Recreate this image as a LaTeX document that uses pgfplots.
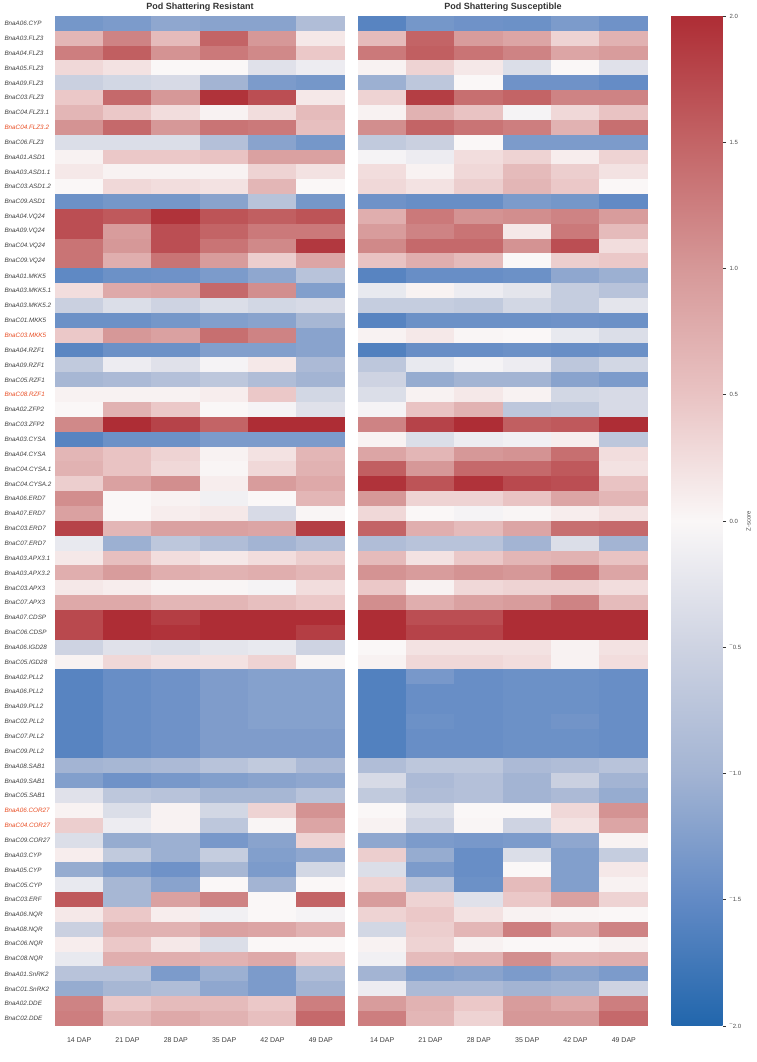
\documentclass[border=0pt]{standalone}
\usepackage{pgfplots}
\pgfplotsset{compat=1.18}
\usepackage{pgfplotstable}
\usepackage{fontspec}
\setmainfont{Liberation Sans}

\definecolor{labred}{RGB}{232,78,36}
\newcommand\hl[1]{\textcolor{labred}{#1}}
\newcommand\nm{\textsuperscript{\textendash}}

% one heat-map cell: 290pt/6 columns by 1010pt/68 rows (slight overlap to avoid seams)
\pgfdeclareplotmark{cell}{%
  \pgfpathrectangle{\pgfpoint{-24.35pt}{-7.6pt}}{\pgfpoint{48.7pt}{15.2pt}}%
  \pgfusepathqfill}

\pgfplotsset{
  colormap={zs}{
    rgb255=(33,102,172) rgb255=(98,138,197) rgb255=(163,180,211)
    rgb255=(206,211,226) rgb255=(250,247,247) rgb255=(233,195,195)
    rgb255=(214,152,152) rgb255=(195,100,102) rgb255=(174,45,53)},
  heat/.style={
    scale only axis, width=290pt, height=1010pt,
    xmin=-0.5, xmax=5.5, ymin=-0.5, ymax=67.5, y dir=reverse,
    xtick={0,...,5},
    xticklabels={14 DAP,21 DAP,28 DAP,35 DAP,42 DAP,49 DAP},
    minor ytick={0.5,1.5,...,66.5},
    xminorgrids=true, yminorgrids=true,
    minor grid style={draw=black!38, line width=0.45pt},
    major tick length=0pt, minor tick length=0pt,
    axis line style={draw=none},
    axis on top,
    colormap name=zs, point meta min=-2, point meta max=2,
    xticklabel style={font=\fontsize{7}{8}\selectfont, text=black!75, yshift=-8pt},
    title style={font=\bfseries\fontsize{9}{10}\selectfont, text=black!80, yshift=-4.5pt},
  },
  cellplot/.style={scatter, only marks, mark=cell, point meta=explicit},
}

% z-scores: resistant (L..) and susceptible (S..) lines at 14--49 DAP
\pgfplotstableread{
gene L14 L21 L28 L35 L42 L49 S14 S21 S28 S35 S42 S49
BnaA06.CYP -1.35 -1.30 -1.15 -1.20 -1.20 -0.85 -1.58 -1.35 -1.40 -1.42 -1.30 -1.40
BnaA03.FLZ3 0.65 1.20 0.60 1.50 1.00 0.15 0.60 1.50 0.95 0.85 0.35 0.70
BnaA04.FLZ3 1.25 1.55 1.05 1.30 1.15 0.45 1.30 1.55 1.35 1.20 0.85 0.95
BnaA05.FLZ3 0.30 0.20 0.00 0.00 -0.30 -0.15 0.05 0.35 0.15 -0.35 0.00 -0.30
BnaA09.FLZ3 -0.55 -0.45 -0.40 -1.00 -1.30 -1.35 -1.05 -0.70 0.00 -1.40 -1.40 -1.48
BnaC03.FLZ3 0.45 1.45 1.00 1.95 1.70 0.15 0.35 1.85 1.40 1.50 1.20 1.20
BnaC04.FLZ3.1 0.65 0.45 0.25 0.05 0.25 0.60 0.05 0.70 0.50 -0.05 0.30 0.50
BnaC04.FLZ3.2 1.05 1.45 1.00 1.35 1.30 0.55 1.10 1.50 1.35 1.25 0.70 1.40
BnaC06.FLZ3 -0.35 -0.35 -0.35 -0.80 -1.20 -1.35 -0.65 -0.55 0.00 -1.30 -1.30 -1.30
BnaA01.ASD1 0.05 0.45 0.45 0.50 0.90 0.90 -0.05 -0.15 0.25 0.35 0.10 0.35
BnaA03.ASD1.1 0.15 0.05 0.05 0.05 0.35 0.20 0.25 0.05 0.30 0.60 0.40 0.20
BnaC03.ASD1.2 0.00 0.30 0.25 0.20 0.65 0.00 0.30 0.20 0.40 0.65 0.45 0.00
BnaC09.ASD1 -1.42 -1.35 -1.35 -1.20 -0.75 -1.35 -1.40 -1.45 -1.45 -1.30 -1.35 -1.50
BnaA04.VQ24 1.70 1.60 1.95 1.65 1.55 1.65 0.75 1.30 1.05 1.10 1.20 0.95
BnaA09.VQ24 1.70 0.95 1.70 1.50 1.30 1.30 0.95 1.20 1.35 0.15 1.30 0.60
BnaC04.VQ24 1.35 1.00 1.70 1.35 1.15 1.90 1.15 1.45 1.45 1.05 1.70 0.25
BnaC09.VQ24 1.35 0.75 1.35 0.95 0.40 0.85 0.50 0.75 0.60 0.00 0.40 0.45
BnaA01.MKK5 -1.52 -1.42 -1.40 -1.30 -1.15 -0.75 -1.58 -1.45 -1.45 -1.42 -1.15 -1.05
BnaA03.MKK5.1 0.25 0.80 0.85 1.45 1.10 -1.25 -0.20 0.05 -0.15 -0.25 -0.60 -0.75
BnaA03.MKK5.2 -0.55 -0.35 -0.50 -0.35 -0.45 -0.40 -0.60 -0.60 -0.65 -0.45 -0.60 -0.25
BnaC01.MKK5 -1.42 -1.42 -1.35 -1.25 -1.20 -0.95 -1.58 -1.42 -1.42 -1.42 -1.40 -1.42
BnaC03.MKK5 0.45 1.00 0.90 1.40 1.20 -1.20 0.05 0.15 0.02 0.00 -0.20 -0.35
BnaA04.RZF1 -1.55 -1.42 -1.42 -1.25 -1.25 -1.20 -1.62 -1.45 -1.45 -1.42 -1.45 -1.42
BnaA09.RZF1 -0.65 -0.15 -0.30 -0.05 0.15 -0.90 -0.70 -0.20 -0.05 -0.15 -0.70 -0.45
BnaC05.RZF1 -0.95 -0.90 -0.80 -0.70 -0.85 -1.00 -0.50 -1.10 -1.00 -1.00 -1.20 -1.30
BnaC08.RZF1 0.05 0.05 0.05 0.10 0.45 -0.45 -0.35 0.05 0.15 0.05 -0.45 -0.40
BnaA02.ZFP2 0.00 0.70 0.45 0.00 -0.05 -0.30 -0.05 0.50 0.70 -0.70 -0.65 -0.40
BnaC03.ZFP2 1.15 2.00 1.80 1.50 2.00 2.00 1.20 1.80 2.00 1.55 1.60 2.00
BnaA03.CYSA -1.58 -1.42 -1.42 -1.30 -1.30 -1.30 0.05 -0.35 -0.15 -0.10 0.10 -0.70
BnaA04.CYSA 0.65 0.50 0.35 0.05 0.20 0.65 0.85 0.65 1.00 1.05 1.40 0.25
BnaC04.CYSA.1 0.70 0.50 0.30 0.02 0.30 0.70 1.55 1.00 1.45 1.45 1.60 0.20
BnaC04.CYSA.2 0.40 0.90 1.10 0.10 0.95 0.80 1.95 1.65 1.95 1.75 1.70 0.50
BnaA06.ERD7 1.10 0.00 0.05 -0.10 0.00 0.65 1.00 0.35 0.35 0.50 0.85 0.65
BnaA07.ERD7 0.90 0.00 0.10 0.15 -0.40 0.02 0.30 0.00 -0.05 0.02 0.10 0.20
BnaC03.ERD7 1.80 0.65 0.90 0.90 0.85 1.85 1.50 0.75 0.60 0.85 1.40 1.45
BnaC07.ERD7 -0.20 -1.05 -0.70 -0.85 -1.00 -0.85 -0.85 -0.75 -0.75 -1.00 -0.35 -1.00
BnaA03.APX3.1 0.15 0.55 0.25 0.15 0.25 0.40 0.60 0.20 0.45 0.65 0.70 0.50
BnaA03.APX3.2 0.75 0.95 0.75 0.70 0.75 0.65 1.05 0.95 1.05 1.00 1.30 0.85
BnaC03.APX3 0.15 0.10 0.02 0.02 -0.05 0.25 0.45 0.05 0.30 0.35 0.35 0.25
BnaC07.APX3 0.80 0.80 0.65 0.65 0.55 0.45 1.10 0.75 0.90 0.95 1.20 0.60
BnaA07.CDSP 1.75 2.00 1.85 2.00 2.00 2.00 2.00 1.70 1.70 2.00 2.00 2.00
BnaC06.CDSP 1.75 2.00 1.95 2.00 2.00 1.85 2.00 1.80 1.80 2.00 2.00 2.00
BnaA06.IGD28 -0.50 -0.30 -0.35 -0.25 -0.20 -0.50 0.00 0.20 0.20 0.20 0.05 0.20
BnaC05.IGD28 0.05 0.30 0.20 0.20 0.35 0.02 0.05 0.30 0.30 0.25 0.05 0.25
BnaA02.PLL2 -1.58 -1.45 -1.40 -1.28 -1.23 -1.23 -1.62 -1.33 -1.45 -1.42 -1.42 -1.45
BnaA06.PLL2 -1.58 -1.45 -1.40 -1.28 -1.23 -1.23 -1.62 -1.45 -1.45 -1.42 -1.42 -1.45
BnaA09.PLL2 -1.58 -1.45 -1.40 -1.28 -1.23 -1.23 -1.62 -1.45 -1.45 -1.42 -1.42 -1.45
BnaC02.PLL2 -1.58 -1.45 -1.40 -1.28 -1.23 -1.23 -1.62 -1.42 -1.45 -1.42 -1.38 -1.45
BnaC07.PLL2 -1.58 -1.45 -1.40 -1.28 -1.28 -1.28 -1.62 -1.45 -1.45 -1.42 -1.42 -1.45
BnaC09.PLL2 -1.58 -1.45 -1.40 -1.28 -1.28 -1.28 -1.62 -1.45 -1.45 -1.42 -1.42 -1.45
BnaA08.SAB1 -1.00 -0.95 -0.90 -0.75 -0.65 -0.90 -0.85 -0.70 -0.70 -0.90 -0.85 -0.75
BnaA09.SAB1 -1.25 -1.40 -1.33 -1.25 -1.20 -1.15 -0.40 -0.90 -0.80 -1.00 -0.55 -1.00
BnaC05.SAB1 -0.30 -0.70 -0.75 -0.95 -0.95 -0.75 -0.65 -0.85 -0.80 -1.00 -0.90 -1.10
BnaA06.COR27 0.05 -0.35 0.05 -0.45 0.35 1.05 0.00 -0.35 0.00 0.00 0.30 1.05
BnaC04.COR27 0.40 -0.15 0.05 -0.70 0.02 0.85 0.05 -0.50 0.02 -0.50 0.20 0.85
BnaC09.COR27 -0.35 -1.10 -1.05 -1.33 -1.20 0.35 -1.15 -1.30 -1.33 -1.30 -1.15 0.05
BnaA03.CYP 0.10 -0.65 -1.05 -0.60 -1.25 -1.15 0.40 -1.10 -1.45 -0.35 -1.25 -0.60
BnaA05.CYP -1.10 -1.30 -1.40 -0.95 -1.30 -0.45 -0.35 -1.30 -1.45 0.00 -1.25 0.15
BnaC05.CYP -0.20 -0.95 -1.20 0.00 -1.00 0.00 0.35 -0.75 -1.42 0.60 -1.25 0.05
BnaC03.ERF 1.60 -0.95 0.90 1.20 0.00 1.50 0.95 0.35 -0.30 0.45 0.90 0.35
BnaA06.NQR 0.15 0.45 0.10 -0.10 0.00 -0.05 0.35 0.45 0.20 0.05 0.02 0.00
BnaA08.NQR -0.55 0.70 0.70 0.90 0.85 0.70 -0.45 0.40 0.65 1.25 0.80 1.20
BnaC06.NQR 0.10 0.45 0.15 -0.35 0.00 0.00 0.05 0.35 0.05 0.00 0.00 0.05
BnaC08.NQR -0.20 0.75 0.75 0.70 0.80 0.40 -0.10 0.60 0.70 1.10 0.70 0.75
BnaA01.SnRK2 -0.75 -0.75 -1.30 -1.05 -1.30 -0.85 -1.00 -1.25 -1.20 -1.30 -1.20 -1.30
BnaC01.SnRK2 -1.10 -0.95 -0.85 -1.15 -1.30 -1.00 -0.15 -0.90 -0.90 -1.00 -0.95 -0.50
BnaA02.DDE 1.20 0.45 0.60 0.60 0.45 1.25 0.95 0.70 0.45 0.95 0.80 1.25
BnaC02.DDE 1.25 0.65 0.80 0.70 0.55 1.45 1.25 0.65 0.35 1.00 1.00 1.45
}\zdata

\begin{document}
\begin{tikzpicture}[x=1pt,y=1pt]
\useasboundingbox (0,0) rectangle (756,-1062);

% Resistant panel
\begin{axis}[heat, at={(55pt,-16pt)}, anchor=north west,
  title={Pod Shattering Resistant},
  minor xtick={1.5,3.5},
  ytick={0,...,67},
  yticklabels={BnaA06.CYP,BnaA03.FLZ3,BnaA04.FLZ3,BnaA05.FLZ3,BnaA09.FLZ3,BnaC03.FLZ3,
    BnaC04.FLZ3.1,\hl{BnaC04.FLZ3.2},BnaC06.FLZ3,BnaA01.ASD1,BnaA03.ASD1.1,BnaC03.ASD1.2,
    BnaC09.ASD1,BnaA04.VQ24,BnaA09.VQ24,BnaC04.VQ24,BnaC09.VQ24,BnaA01.MKK5,
    BnaA03.MKK5.1,BnaA03.MKK5.2,BnaC01.MKK5,\hl{BnaC03.MKK5},BnaA04.RZF1,BnaA09.RZF1,
    BnaC05.RZF1,\hl{BnaC08.RZF1},BnaA02.ZFP2,BnaC03.ZFP2,BnaA03.CYSA,BnaA04.CYSA,
    BnaC04.CYSA.1,BnaC04.CYSA.2,BnaA06.ERD7,BnaA07.ERD7,BnaC03.ERD7,BnaC07.ERD7,
    BnaA03.APX3.1,BnaA03.APX3.2,BnaC03.APX3,BnaC07.APX3,BnaA07.CDSP,BnaC06.CDSP,
    BnaA06.IGD28,BnaC05.IGD28,BnaA02.PLL2,BnaA06.PLL2,BnaA09.PLL2,BnaC02.PLL2,
    BnaC07.PLL2,BnaC09.PLL2,BnaA08.SAB1,BnaA09.SAB1,BnaC05.SAB1,\hl{BnaA06.COR27},
    \hl{BnaC04.COR27},BnaC09.COR27,BnaA03.CYP,BnaA05.CYP,BnaC05.CYP,BnaC03.ERF,
    BnaA06.NQR,BnaA08.NQR,BnaC06.NQR,BnaC08.NQR,BnaA01.SnRK2,BnaC01.SnRK2,
    BnaA02.DDE,BnaC02.DDE},
  yticklabel style={font=\fontsize{6.3}{7}\selectfont\itshape, text=black!75,
    anchor=west, xshift=-54pt},
]
\addplot[cellplot] table[x expr=0, y expr=\coordindex, meta=L14] {\zdata};
\addplot[cellplot] table[x expr=1, y expr=\coordindex, meta=L21] {\zdata};
\addplot[cellplot] table[x expr=2, y expr=\coordindex, meta=L28] {\zdata};
\addplot[cellplot] table[x expr=3, y expr=\coordindex, meta=L35] {\zdata};
\addplot[cellplot] table[x expr=4, y expr=\coordindex, meta=L42] {\zdata};
\addplot[cellplot] table[x expr=5, y expr=\coordindex, meta=L49] {\zdata};
\end{axis}

% Susceptible panel with the shared colour scale
\begin{axis}[heat, at={(358pt,-16pt)}, anchor=north west,
  title={Pod Shattering Susceptible},
  minor xtick={0.5,2.5,4.5},
  ytick=\empty,
  colorbar,
  colorbar/width=51pt,
  colorbar style={
    at={(parent axis.north east)}, anchor=north west, xshift=15pt,
    scale only axis, width=51pt, height=1010pt,
    ytick={-2,-1.5,...,2},
    yticklabels={\nm 2.0,\nm 1.5,\nm 1.0,\nm 0.5,0.0,0.5,1.0,1.5,2.0},
    ytick pos=right, yticklabel pos=right,
    tick align=outside, major tick length=3.5pt,
    ytick style={draw=black!80, line width=0.6pt},
    yticklabel style={font=\fontsize{6}{7}\selectfont, text=black!70},
    axis line style={draw=none},
    ylabel={Z-score},
    ylabel style={at={(axis description cs:1,0.5)}, anchor=center, yshift=-26pt,
      font=\fontsize{6}{7}\selectfont, text=black!70},
  },
]
\addplot[cellplot] table[x expr=0, y expr=\coordindex, meta=S14] {\zdata};
\addplot[cellplot] table[x expr=1, y expr=\coordindex, meta=S21] {\zdata};
\addplot[cellplot] table[x expr=2, y expr=\coordindex, meta=S28] {\zdata};
\addplot[cellplot] table[x expr=3, y expr=\coordindex, meta=S35] {\zdata};
\addplot[cellplot] table[x expr=4, y expr=\coordindex, meta=S42] {\zdata};
\addplot[cellplot] table[x expr=5, y expr=\coordindex, meta=S49] {\zdata};
\end{axis}
\end{tikzpicture}
\end{document}
